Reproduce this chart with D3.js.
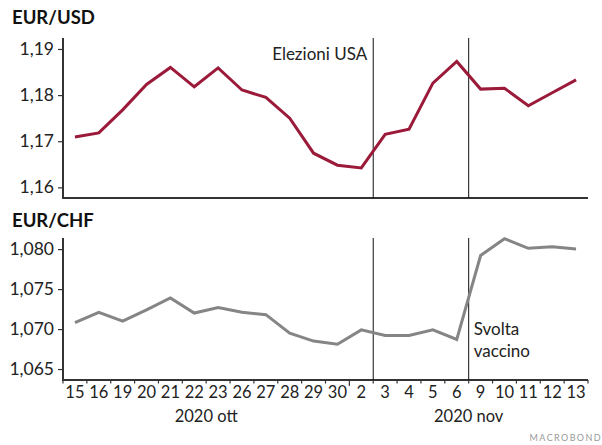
<!DOCTYPE html>
<html>
<head>
<meta charset="utf-8">
<script src="https://cdn.jsdelivr.net/npm/d3@7"></script>
<style>
  html, body { margin: 0; padding: 0; background: #fff; }
  svg { display: block; font-family: Lato, "Open Sans", sans-serif; }
</style>
</head>
<body>
<svg id="chart" width="602" height="445"></svg>
<script>
// Trading days (Oct 15 – Nov 13, 2020)
const days = ["15","16","19","20","21","22","23","26","27","28","29","30","2","3","4","5","6","9","10","11","12","13"];
const months = [
  { label: "2020 ott", from: 0, to: 11 },
  { label: "2020 nov", from: 12, to: 21 }
];
const eurUsd = [1.1709,1.1718,1.1768,1.1823,1.1860,1.1818,1.1859,1.1811,1.1795,1.1750,1.1674,1.1648,1.1642,1.1715,1.1726,1.1826,1.1873,1.1813,1.1815,1.1777,1.1805,1.1833];
const eurChf = [1.0708,1.0721,1.0710,1.0724,1.0739,1.0720,1.0727,1.0721,1.0718,1.0695,1.0685,1.0681,1.0699,1.0692,1.0692,1.0699,1.0687,1.0792,1.0813,1.0801,1.0803,1.0800];
const usdTicks = [1.16, 1.17, 1.18, 1.19];
const chfTicks = [1.065, 1.070, 1.075, 1.080];
// Events, placed between two trading days
const events = [
  { after: 12, label: ["Elezioni USA"] },
  { after: 16, label: ["Svolta", "vaccino"] }
];

const svg = d3.select("#chart");
const left = 63, right = 588;
const x = d3.scaleLinear().domain([-0.5, days.length - 0.5]).range([left, right]);
const fmt = (d, n) => d.toFixed(n).replace(".", ",");

function panel(cfg) {
  const y = d3.scaleLinear().domain(cfg.domain).range([cfg.bottom, cfg.top]);
  const g = svg.append("g");

  g.append("text")
    .attr("x", 12).attr("y", cfg.titleY)
    .attr("font-size", 18.5).attr("font-weight", 700).attr("fill", "#111")
    .text(cfg.title);

  // y axis
  const ya = g.append("g").attr("transform", `translate(${left},0)`)
    .call(d3.axisLeft(y).tickValues(cfg.ticks).tickSize(5).tickPadding(4)
      .tickFormat(d => fmt(d, cfg.decimals)));
  ya.select(".domain").attr("stroke", "#333").attr("stroke-width", 2)
    .attr("d", `M0,${cfg.top}V${cfg.bottom}`);
  ya.selectAll(".tick line").attr("stroke", "#333").attr("stroke-width", 1.2);
  ya.selectAll(".tick text").attr("font-size", 17.5).attr("fill", "#222")
    .attr("font-family", "Lato, sans-serif");

  // x axis baseline
  g.append("line")
    .attr("x1", left - 1).attr("x2", right)
    .attr("y1", cfg.bottom).attr("y2", cfg.bottom)
    .attr("stroke", "#333").attr("stroke-width", 2);

  // event lines
  events.forEach(e => {
    g.append("line")
      .attr("x1", x(e.after + 0.5)).attr("x2", x(e.after + 0.5))
      .attr("y1", cfg.top).attr("y2", cfg.bottom)
      .attr("stroke", "#111").attr("stroke-width", 1);
  });

  g.append("path")
    .datum(cfg.values)
    .attr("fill", "none")
    .attr("stroke", cfg.color)
    .attr("stroke-width", 3)
    .attr("stroke-linejoin", "miter")
    .attr("d", d3.line().x((d, i) => x(i)).y(d => y(d)));

  return { g, y };
}

const usdPanel = panel({
  title: "EUR/USD", titleY: 24, top: 38, bottom: 198,
  domain: [1.15769, 1.19238], ticks: usdTicks, decimals: 2,
  values: eurUsd, color: "#9b1a3a"
});

const chfPanel = panel({
  title: "EUR/CHF", titleY: 227, top: 238, bottom: 380,
  domain: [1.06363, 1.08139], ticks: chfTicks, decimals: 3,
  values: eurChf, color: "#858585"
});

// event annotations
usdPanel.g.append("text")
  .attr("x", x(events[0].after + 0.5) - 6).attr("y", 60)
  .attr("text-anchor", "end").attr("font-size", 17).attr("fill", "#222")
  .text(events[0].label[0]);

const sv = chfPanel.g.append("text")
  .attr("x", x(events[1].after + 0.5) + 5).attr("y", 335)
  .attr("font-size", 17).attr("fill", "#222");
events[1].label.forEach((t, i) => sv.append("tspan")
  .attr("x", x(events[1].after + 0.5) + 5).attr("dy", i ? 21.5 : 0).text(t));

// bottom category axis with ticks between days
const xa = svg.append("g");
d3.range(days.length + 1).forEach(i => {
  const isMonth = i === 12;
  xa.append("line")
    .attr("x1", x(i - 0.5)).attr("x2", x(i - 0.5))
    .attr("y1", 380).attr("y2", isMonth ? 386 : 383.5)
    .attr("stroke", "#333").attr("stroke-width", 1.2);
});
xa.selectAll("text.day").data(days).join("text")
  .attr("class", "day")
  .attr("x", (d, i) => x(i)).attr("y", 398)
  .attr("text-anchor", "middle").attr("font-size", 16.5).attr("fill", "#222")
  .text(d => d);
xa.selectAll("text.month").data(months).join("text")
  .attr("class", "month")
  .attr("x", d => x((d.from + d.to) / 2)).attr("y", 422)
  .attr("text-anchor", "middle").attr("font-size", 16.5).attr("fill", "#222")
  .text(d => d.label);

svg.append("text")
  .attr("x", 602).attr("y", 441).attr("text-anchor", "end")
  .attr("font-size", 9).attr("letter-spacing", 1.4).attr("fill", "#999")
  .text("MACROBOND");
</script>
</body>
</html>
